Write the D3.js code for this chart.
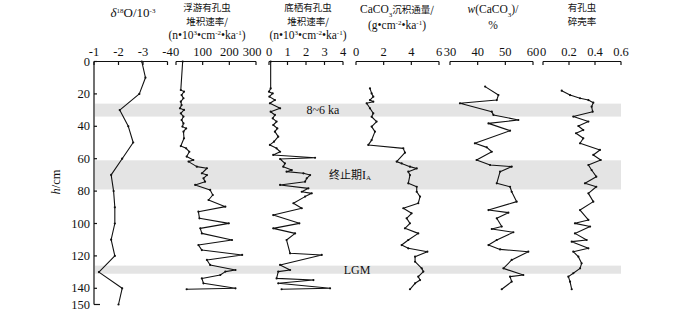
<!DOCTYPE html>
<html>
<head>
<meta charset="utf-8">
<script src="https://cdn.jsdelivr.net/npm/d3@7"></script>
<style>
  body { margin: 0; background: #fff; }
  svg text { fill: #111; }
</style>
</head>
<body>
<div id="chart"></div>
<script>
// depth (cm) for each series
var depthTicks = [0, 20, 40, 60, 80, 100, 120, 140, 150];

var o18Depth = [0, 10, 20, 30, 40, 50, 60, 70, 80, 90, 100, 110, 120, 130, 140, 150];
var o18Val = [-2.95, -3.1, -2.85, -2.05, -2.4, -2.6, -2.15, -1.7, -1.8, -1.85, -1.85, -1.7, -1.85, -1.2, -2.15, -2.0];

// planktonic foram accumulation rate [depth, value]
var planktic = [[0,25],[17.6,18],[18.6,30],[20.7,21],[22.7,28],[24.8,18],[26.9,21],[28.9,15],[29.9,30],[32,18],[34,28],[36.1,21],[38.2,28],[40.2,24],[41.3,38],[43.3,28],[47.4,30],[52.2,18],[53.6,38],[55.7,50],[58.7,40],[60.8,65],[61.8,47],[64.9,78],[65.9,116],[69,97],[70.1,116],[72.1,103],[74.2,109],[76.2,72],[79.3,128],[82.4,138],[85.5,122],[89.6,185],[92.7,84],[96.8,88],[99.9,198],[103,91],[106.1,97],[110.2,210],[113.3,84],[116.4,97],[119.4,248],[122.5,116],[125.6,128],[128.7,223],[129.7,185],[131.8,166],[133.9,97],[136.9,103],[140,223],[140.6,40]];

// benthic foram accumulation rate
var benthic = [[0,0.09],[16.6,0.09],[18.6,0],[19.7,0.2],[21.7,0.02],[23.8,0.32],[25.8,0.05],[28.9,0.6],[31,0.09],[33,0.32],[35.1,0.2],[37.1,0.41],[39.2,0.23],[41.3,0.45],[43.3,0.32],[46.4,0.5],[49.5,0.27],[51.5,0.05],[53.6,0.41],[55.7,0.6],[57.7,0.23],[59.4,2.49],[60.2,0.6],[62.9,0.86],[64.9,0.77],[67,1.23],[68,0.95],[69,1.86],[70.1,2.22],[72.1,2.04],[74.2,1.95],[76.2,0.6],[78.3,2.13],[80.4,1.77],[81.4,2.31],[83.4,1.95],[87.5,1.32],[90.6,1.77],[94.8,0.23],[99.9,1.64],[103,0.23],[106.1,1.41],[110.2,0.95],[118.4,1.14],[119.4,2.85],[125.6,0.6],[128.7,1.14],[129.7,0.5],[133.9,0.41],[134.9,2.4],[136.9,0.5],[140,3.3],[140.6,0.68]];

// CaCO3 flux
var caFlux = [[16.6,1.01],[19.7,1.13],[21.7,1.25],[23.8,1.01],[24.8,1.25],[25.8,0.77],[28.9,1.01],[32,1.25],[34.1,1.13],[37.1,1.49],[40.2,1.13],[43.3,1.37],[48.5,1.13],[51.5,0.89],[53.6,3.42],[56.3,3.54],[61.8,2.94],[62.9,3.3],[64.9,3.9],[66,4.39],[68,3.78],[70.1,3.9],[75.2,3.78],[77.3,4.39],[80.4,4.39],[83.4,4.63],[87.5,4.5],[90.6,3.42],[93.7,4.02],[96.8,3.66],[99.9,3.9],[103,3.54],[106.1,4.5],[110.2,3.78],[113.3,3.3],[115.3,3.78],[117.4,5.16],[120.5,4.27],[123.6,4.27],[127.7,4.75],[129.7,4.87],[132.8,4.5],[134.9,4.63],[136.9,4.27],[140.6,3.9]];

// CaCO3 content %
var caPct = [[15.5,42.7],[20.7,47.5],[23.8,46.9],[25.8,33.6],[31,45.1],[33,45.7],[36.1,54.7],[38.2,43.9],[42.7,51.7],[50.5,39],[53,43.3],[55.7,45.1],[60.8,39.6],[63.9,44.5],[64.9,52.3],[68,48.1],[75.2,46.9],[77.3,51.7],[80.4,52.3],[86.5,54.1],[91.7,43.9],[93.3,51.1],[96.8,46.9],[101.9,48.7],[103.4,45.1],[105.4,52.9],[110.2,46.9],[113.3,43.9],[116,48.1],[117.4,58.3],[122.5,52.3],[127.7,49.3],[131.8,56.5],[132.8,51.7],[135.9,52.3],[140.6,48.7]];

// foram fragmentation ratio
var frag = [[18,0.144],[20.7,0.208],[22.7,0.285],[23.8,0.349],[25.4,0.387],[27.9,0.374],[31,0.382],[34,0.233],[37.1,0.349],[39.8,0.272],[42.3,0.31],[44.3,0.254],[47.4,0.31],[50.5,0.285],[54.6,0.438],[57.7,0.387],[60.8,0.444],[63.9,0.349],[67,0.374],[71.1,0.41],[75.2,0.323],[77.3,0.41],[81.4,0.349],[86.5,0.387],[91.7,0.285],[97.8,0.349],[99.9,0.246],[101.9,0.362],[106.1,0.246],[110.2,0.336],[111.2,0.221],[115.3,0.349],[117.4,0.233],[120.5,0.272],[124.6,0.297],[127.7,0.285],[130.7,0.233],[132.8,0.195],[135.9,0.208],[140.6,0.221]];

var bands = [[26, 34], [61, 79], [126, 131]];
var bandLabels = ["8~6 ka", "终止期I", "LGM"];

var width = 677, height = 318;

var svg = d3.select("#chart").append("svg")
  .attr("width", width).attr("height", height)
  .style("font-family", "'Liberation Serif', 'Times New Roman', serif");

var y = d3.scaleLinear().domain([0, 150]).range([61.5, 304.5]);

// shaded intervals
svg.append("g").selectAll("rect")
  .data(bands)
  .join("rect")
  .attr("x", 95).attr("width", 526)
  .attr("y", (d) => y(d[0]))
  .attr("height", (d) => y(d[1]) - y(d[0]))
  .attr("fill", "#e4e4e4");

// band labels
var lbl = svg.append("g").attr("font-size", 12);
lbl.append("text").attr("x", 323).attr("y", y(30) + 4).attr("text-anchor", "middle").text(bandLabels[0]);
var t2 = lbl.append("text").attr("x", 350).attr("y", y(70) + 4).attr("text-anchor", "middle");
t2.append("tspan").style("font-family", "'Noto Sans CJK SC'").attr("font-size", 11).text("终止期");
t2.append("tspan").text("I");
t2.append("tspan").attr("font-size", 7).attr("dy", 1).text("A");
lbl.append("text").attr("x", 357).attr("y", y(128.5) + 4).attr("text-anchor", "middle").text(bandLabels[2]);

// depth axis
var yAxis = svg.append("g");
yAxis.append("line").attr("x1", 94).attr("x2", 94).attr("y1", y(0)).attr("y2", y(150))
  .attr("stroke", "#111").attr("stroke-width", 1.2);
yAxis.selectAll(".tk").data(depthTicks).join("line")
  .attr("x1", 94).attr("x2", (d) => d == 150 ? 100 : 97)
  .attr("y1", (d) => y(d)).attr("y2", (d) => y(d))
  .attr("stroke", "#111").attr("stroke-width", 1.2);
yAxis.selectAll("text").data(depthTicks).join("text")
  .attr("x", 90).attr("y", (d) => y(d) + 4)
  .attr("text-anchor", "end").attr("font-size", 12.5)
  .text((d) => d);
var yl = svg.append("text").attr("transform", "translate(60,182) rotate(-90)")
  .attr("text-anchor", "middle").attr("font-size", 12.5);
yl.append("tspan").attr("font-style", "italic").text("h");
yl.append("tspan").text("/cm");

var panels = [
  { dom: [-1, -4], rng: [94, 167.5], ticks: [-1, -2, -3, -4], fmt: (d) => "-" + Math.abs(d),
    data: o18Depth.map((d, i) => [d, o18Val[i]]) },
  { dom: [0, 300], rng: [176, 256], ticks: [0, 100, 200, 300], fmt: (d) => d, data: planktic },
  { dom: [0, 4], rng: [269, 343], ticks: [0, 1, 2, 3, 4], fmt: (d) => d, data: benthic },
  { dom: [0, 6], rng: [356, 439], ticks: [0, 2, 4, 6], fmt: (d) => d, data: caFlux },
  { dom: [30, 60], rng: [450, 533], ticks: [30, 40, 50, 60], fmt: (d) => d, data: caPct },
  { dom: [0, 0.6], rng: [543, 621], ticks: [0, 0.2, 0.4, 0.6], fmt: (d) => d === 0 ? "0" : d, data: frag }
];

panels.forEach(function (p) {
  var x = d3.scaleLinear().domain(p.dom).range(p.rng);
  var g = svg.append("g");
  // top bracket axis
  g.append("line").attr("x1", p.rng[0]).attr("x2", p.rng[1])
    .attr("y1", y(0)).attr("y2", y(0)).attr("stroke", "#111").attr("stroke-width", 1.2);
  g.selectAll(".tk").data(p.ticks).join("line")
    .attr("x1", (d) => x(d)).attr("x2", (d) => x(d))
    .attr("y1", y(0)).attr("y2", y(0) + 3.5)
    .attr("stroke", "#111").attr("stroke-width", 1.2);
  // last label of the planktic panel sits a little left of its tick
  g.selectAll("text").data(p.ticks).join("text")
    .attr("x", (d) => x(d) - (p.dom[1] == 300 && d == 300 ? 4 : 0)).attr("y", 56)
    .attr("text-anchor", "middle").attr("font-size", 12.5)
    .text(p.fmt);

  var line = d3.line().x((d) => x(d[1])).y((d) => y(d[0]));
  g.append("path").datum(p.data).attr("d", line)
    .attr("fill", "none").attr("stroke", "#111").attr("stroke-width", 1.1)
    .attr("stroke-linejoin", "round");
  g.selectAll("circle").data(p.data).join("circle")
    .attr("cx", (d) => x(d[1])).attr("cy", (d) => y(d[0])).attr("r", 1.1)
    .attr("fill", "#111");
});

// titles
var cjk = "'Noto Sans CJK SC'";
function addLine(cx, yy, parts, size) {
  var t = svg.append("text").attr("x", cx).attr("y", yy)
    .attr("text-anchor", "middle").attr("font-size", size || 11.5);
  parts.forEach(function (s) {
    var ts = t.append("tspan").text(s.t);
    if (s.cjk) ts.style("font-family", cjk).attr("font-size", 9.5);
    if (s.sup) ts.attr("font-size", 7).attr("baseline-shift", "super");
    if (s.sub) ts.attr("font-size", 7).attr("baseline-shift", "sub");
    if (s.it) ts.attr("font-style", "italic");
  });
  return t;
}

addLine(133, 17, [{ t: "δ", it: true }, { t: "18", sup: true }, { t: "O/10" }, { t: "-3", sup: true }], 13);

addLine(207, 11, [{ t: "浮游有孔虫", cjk: true }]);
addLine(207, 25, [{ t: "堆积速率/", cjk: true }]);
addLine(207, 39, [{ t: "(n•10" }, { t: "3", sup: true }, { t: "•cm" }, { t: "-2", sup: true }, { t: "•ka" }, { t: "-1", sup: true }, { t: ")" }]);

addLine(308, 11, [{ t: "底栖有孔虫", cjk: true }]);
addLine(308, 25, [{ t: "堆积速率/", cjk: true }]);
addLine(308, 39, [{ t: "(n•10" }, { t: "3", sup: true }, { t: "•cm" }, { t: "-2", sup: true }, { t: "•ka" }, { t: "-1", sup: true }, { t: ")" }]);

addLine(397, 13, [{ t: "CaCO" }, { t: "3", sub: true }, { t: "沉积通量/", cjk: true }]);
addLine(397, 29, [{ t: "(g•cm" }, { t: "-2", sup: true }, { t: "•ka" }, { t: "-1", sup: true }, { t: ")" }]);

addLine(493, 13, [{ t: "w", it: true }, { t: "(CaCO" }, { t: "3", sub: true }, { t: ")/" }]);
addLine(493, 29, [{ t: "%" }]);

addLine(582, 11, [{ t: "有孔虫", cjk: true }]);
addLine(582, 25, [{ t: "碎壳率", cjk: true }]);
</script>
</body>
</html>
